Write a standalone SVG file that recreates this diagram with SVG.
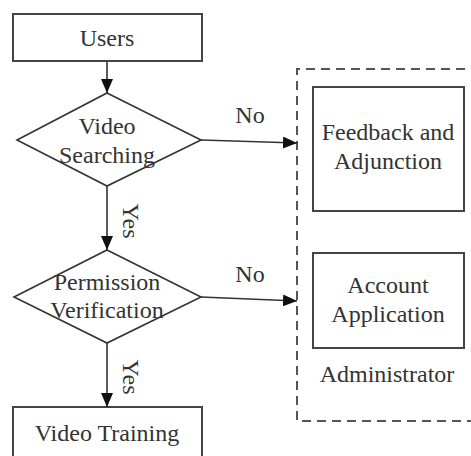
<svg xmlns="http://www.w3.org/2000/svg" width="471" height="456" viewBox="0 0 471 456">
  <style>
    .box { fill: #fff; stroke: #444; stroke-width: 2; }
    .dia { fill: #fff; stroke: #333; stroke-width: 1.6; }
    .lbl { font-family: 'Liberation Serif', 'Times New Roman', serif; font-size: 24px; fill: #333; text-anchor: middle; }
    .edge { fill: none; stroke: #333; stroke-width: 1.6; marker-end: url(#arrow); }
    .group { fill: none; stroke: #555; stroke-width: 2; stroke-dasharray: 9 6; }
  </style>
  <defs>
    <marker id="arrow" viewBox="0 0 14 12" refX="14" refY="6" markerUnits="userSpaceOnUse" markerWidth="14" markerHeight="12" orient="auto">
      <path d="M0,0 L14,6 L0,12 Z" fill="#111"/>
    </marker>
  </defs>

  <!-- administrator region -->
  <g id="administrator">
    <path class="group" d="M480,69 H297 V421 H480"/>
    <text class="lbl" x="387" y="382">Administrator</text>
  </g>

  <g id="users">
    <rect class="box" x="13" y="14" width="189" height="47"/>
    <text class="lbl" x="107" y="46">Users</text>
  </g>

  <g id="video-searching">
    <polygon class="dia" points="107,93 201,140 107,186 17,140"/>
    <text class="lbl" x="107" y="134">Video</text>
    <text class="lbl" x="107" y="163">Searching</text>
  </g>

  <g id="permission-verification">
    <polygon class="dia" points="107,250 201,297 107,343 14,297"/>
    <text class="lbl" x="107" y="290">Permission</text>
    <text class="lbl" x="107" y="318">Verification</text>
  </g>

  <g id="video-training">
    <rect class="box" x="13" y="407" width="189" height="60"/>
    <text class="lbl" x="107" y="441">Video Training</text>
  </g>

  <g id="feedback">
    <rect class="box" x="313" y="87" width="151" height="124"/>
    <text class="lbl" x="388" y="140">Feedback and</text>
    <text class="lbl" x="388" y="169">Adjunction</text>
  </g>

  <g id="account">
    <rect class="box" x="313" y="253" width="151" height="95"/>
    <text class="lbl" x="388" y="293">Account</text>
    <text class="lbl" x="388" y="322">Application</text>
  </g>

  <!-- connectors -->
  <g id="connectors">
    <line class="edge" x1="107" y1="62" x2="107" y2="93"/>
    <line class="edge" x1="107" y1="186" x2="107" y2="250"/>
    <line class="edge" x1="107" y1="343" x2="107" y2="407"/>
    <line class="edge" x1="201" y1="140" x2="297" y2="143"/>
    <line class="edge" x1="201" y1="297" x2="297" y2="301"/>
    <text class="lbl" x="250" y="123">No</text>
    <text class="lbl" x="250" y="282">No</text>
    <text class="lbl" transform="translate(123,221) rotate(90)">Yes</text>
    <text class="lbl" transform="translate(123,377) rotate(90)">Yes</text>
  </g>
</svg>
